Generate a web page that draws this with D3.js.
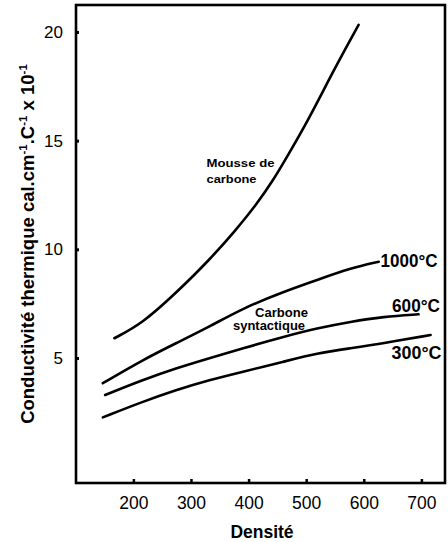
<!DOCTYPE html>
<html>
<head>
<meta charset="utf-8">
<script src="https://cdn.jsdelivr.net/npm/d3@7/dist/d3.min.js"></script>
<style>
  html, body { margin: 0; padding: 0; background: #fff; }
  svg { display: block; }
</style>
</head>
<body>
<svg id="chart" width="448" height="542"></svg>
<script>
// ---- data ----
const xTicks = [200, 300, 400, 500, 600, 700];
const yTicks = [5, 10, 15, 20];

const mousseX = [167, 216, 274, 332, 378, 413, 443, 467, 504, 548, 591];
const mousseY = [5.91, 6.60, 7.99, 9.51, 10.89, 12.04, 13.19, 14.27, 15.96, 18.26, 20.33];

const t1000X = [147, 216, 274, 332, 390, 461, 519, 577, 626];
const t1000Y = [3.84, 4.91, 5.68, 6.44, 7.29, 8.05, 8.59, 9.13, 9.43];

const t600X = [151, 216, 274, 332, 390, 461, 519, 577, 634, 695];
const t600Y = [3.30, 3.99, 4.53, 4.99, 5.45, 5.98, 6.37, 6.67, 6.90, 7.01];

const t300X = [147, 216, 274, 332, 390, 461, 519, 577, 634, 716];
const t300Y = [2.27, 2.99, 3.53, 3.99, 4.37, 4.83, 5.22, 5.45, 5.68, 6.06];

const seriesNames = ["Mousse de carbone", "1000°C", "600°C", "300°C"];

// ---- layout ----
const svg = d3.select("#chart");
const L = 76, R = 445, T = 5, B = 483;
const x = d3.scaleLinear().domain([100.4, 741]).range([L, R]);
const y = d3.scaleLinear().domain([-0.75, 21.24]).range([B, T]);

const zip = (xs, ys) => xs.map((v, i) => [v, ys[i]]);
const line = d3.line().x(d => x(d[0])).y(d => y(d[1])).curve(d3.curveBasis);

const series = [zip(mousseX, mousseY), zip(t1000X, t1000Y), zip(t600X, t600Y), zip(t300X, t300Y)];

svg.selectAll("path.curve").data(series).enter().append("path")
  .attr("class", "curve")
  .attr("d", line)
  .attr("fill", "none")
  .attr("stroke", "#000")
  .attr("stroke-width", 2.6)
  .attr("stroke-linecap", "round");

// frame
svg.append("rect").attr("x", L).attr("y", T).attr("width", R - L).attr("height", B - T)
  .attr("fill", "none").attr("stroke", "#000").attr("stroke-width", 2.6);

// x axis
const xAxis = d3.axisBottom(x).tickValues(xTicks).tickSize(-4).tickPadding(14).tickFormat(d3.format("d"));
const gx = svg.append("g").attr("transform", `translate(0,${B})`).call(xAxis);
gx.select(".domain").remove();
gx.selectAll(".tick line").attr("stroke", "#000").attr("stroke-width", 2.5);
gx.selectAll(".tick text").attr("font-family", "Liberation Sans, Arial, sans-serif")
  .attr("font-size", 17.5).attr("fill", "#000");

// y axis
const yAxis = d3.axisLeft(y).tickValues(yTicks).tickSize(-3).tickPadding(13).tickFormat(d3.format("d"));
const gy = svg.append("g").attr("transform", `translate(${L},0)`).call(yAxis);
gy.select(".domain").remove();
gy.selectAll(".tick line").attr("stroke", "#000").attr("stroke-width", 3);
gy.selectAll(".tick text").attr("font-family", "Liberation Sans, Arial, sans-serif")
  .attr("font-size", 17).attr("fill", "#000");

// axis titles
svg.append("text").attr("x", 262).attr("y", 538)
  .attr("text-anchor", "middle")
  .attr("font-family", "Liberation Sans, Arial, sans-serif")
  .attr("font-weight", "bold").attr("font-size", 17.5)
  .text("Densité");

const yl = svg.append("text")
  .attr("transform", "translate(34,244) rotate(-90)")
  .attr("text-anchor", "middle")
  .attr("font-family", "Liberation Sans, Arial, sans-serif")
  .attr("font-weight", "bold").attr("font-size", 18.5);
yl.append("tspan").text("Conductivité thermique cal.cm");
yl.append("tspan").attr("dy", -7).attr("font-size", 11.5).text("-1");
yl.append("tspan").attr("dy", 7).text(".C");
yl.append("tspan").attr("dy", -7).attr("font-size", 11.5).text("-1");
yl.append("tspan").attr("dy", 7).text(" x 10");
yl.append("tspan").attr("dy", -7).attr("font-size", 11.5).text("-1");

// annotations
const ann = (txt, ax, ay, w, fs) => svg.append("text")
  .attr("x", ax).attr("y", ay)
  .attr("font-family", "Liberation Sans, Arial, sans-serif")
  .attr("font-weight", "bold").attr("font-size", fs)
  .attr("textLength", w).attr("lengthAdjust", "spacingAndGlyphs")
  .text(txt);

ann("Mousse de", 206.5, 167, 68, 11.5);
ann("carbone", 206.5, 183, 50, 11.5);
ann("Carbone", 255, 317, 53, 12);
ann("syntactique", 233, 330, 72, 12);
ann(seriesNames[1], 380.5, 267, 57, 18);
ann(seriesNames[2], 392, 312, 48, 18);
ann(seriesNames[3], 391.5, 359, 50, 18);
</script>
</body>
</html>
